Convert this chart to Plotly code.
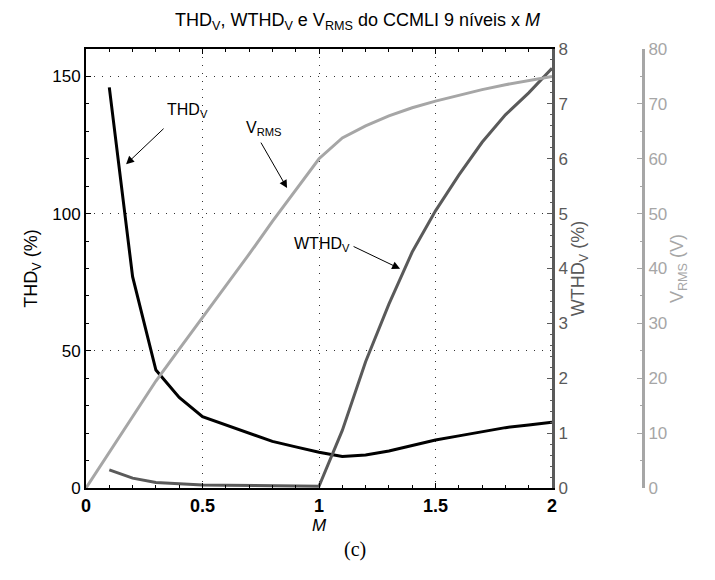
import plotly.graph_objects as go

M_thd = [0.1, 0.2, 0.3, 0.4, 0.5, 0.6, 0.7, 0.8, 0.9, 1.0, 1.1, 1.2, 1.3, 1.4, 1.5, 1.6, 1.7, 1.8, 1.9, 2.0]
thd = [146, 77, 43, 33, 26, 23, 20, 17, 15, 13, 11.5, 12, 13.5, 15.5, 17.5, 19, 20.5, 22, 23, 24]

M_wthd = [0.1, 0.2, 0.3, 0.4, 0.5, 0.6, 0.7, 0.8, 0.9, 1.0, 1.1, 1.2, 1.3, 1.4, 1.5, 1.6, 1.7, 1.8, 1.9, 2.0]
wthd = [0.33, 0.18, 0.10, 0.08, 0.055, 0.05, 0.045, 0.04, 0.035, 0.03, 1.05, 2.3, 3.35, 4.3, 5.05, 5.7, 6.3, 6.8, 7.2, 7.65]

M_vrms = [0.0, 0.1, 0.2, 0.3, 0.4, 0.5, 0.6, 0.7, 0.8, 0.9, 1.0, 1.1, 1.2, 1.3, 1.4, 1.5, 1.6, 1.7, 1.8, 1.9, 2.0]
vrms = [0, 6.5, 13, 19.5, 25.3, 31, 36.8, 42.6, 48.6, 54.3, 60, 63.8, 66, 67.8, 69.3, 70.5, 71.6, 72.6, 73.5, 74.3, 75]

x_ticks = [0, 0.5, 1, 1.5, 2]
x_labels = ["0", "0.5", "1", "1.5", "2"]
thd_ticks = [0, 50, 100, 150]
wthd_ticks = [0, 1, 2, 3, 4, 5, 6, 7, 8]
vrms_ticks = [0, 10, 20, 30, 40, 50, 60, 70, 80]

BLACK = "#000000"
DARK = "#5a5a5a"
LIGHT = "#a6a6a6"
GRID = "#333333"
FONT = "Liberation Sans, Arial, sans-serif"

W, H = 715, 580
L, R, T, B = 86, 20, 49, 92
pw = W - L - R
ph = H - T - B
x_end = (552 - L) / pw
vr_pos = (643 - L) / pw

fig = go.Figure()
fig.add_trace(go.Scatter(x=M_vrms, y=vrms, mode="lines", line=dict(color=LIGHT, width=3), yaxis="y3", showlegend=False))
fig.add_trace(go.Scatter(x=M_wthd, y=wthd, mode="lines", line=dict(color=DARK, width=3), yaxis="y2", showlegend=False))
fig.add_trace(go.Scatter(x=M_thd, y=thd, mode="lines", line=dict(color=BLACK, width=3), yaxis="y", showlegend=False))

fig.update_layout(
    width=W, height=H,
    margin=dict(l=L, r=R, t=T, b=B),
    paper_bgcolor="white", plot_bgcolor="white",
    font=dict(family=FONT, size=17, color=BLACK),
    title=dict(text="THD<sub>V</sub>, WTHD<sub>V</sub> e V<sub>RMS</sub> do CCMLI 9 níveis x <i>M</i>",
               x=0.5, xref="container", xanchor="center", y=0.966, yref="container", yanchor="middle",
               font=dict(family=FONT, size=18, color=BLACK)),
    xaxis=dict(domain=[0, x_end], range=[0, 2], tickvals=x_ticks, ticktext=["<b>%s</b>" % s for s in x_labels],
               showline=True, linecolor=BLACK, linewidth=2, mirror="ticks",
               ticks="inside", ticklen=5, tickcolor=BLACK,
               minor=dict(ticks="inside", dtick=0.1, ticklen=3, tickcolor=BLACK, showgrid=False),
               showgrid=True, gridcolor=GRID, griddash="1px,7px", gridwidth=1,
               zeroline=False, tickfont=dict(size=18, color=BLACK),
               title=dict(text="<i>M</i>", standoff=4, font=dict(size=17))),
    yaxis=dict(range=[0, 160], tickvals=thd_ticks, showline=True, linecolor=BLACK, linewidth=2,
               ticks="inside", ticklen=5, tickcolor=BLACK,
               minor=dict(ticks="inside", dtick=10, ticklen=3, tickcolor=BLACK, showgrid=False),
               showgrid=True, gridcolor=GRID, griddash="1px,7px", gridwidth=1,
               zeroline=False, tickfont=dict(size=17, color=BLACK),
               title=dict(text="THD<sub>V</sub> (%)", standoff=10, font=dict(size=18, color=BLACK))),
    yaxis2=dict(range=[0, 8], tickvals=wthd_ticks, overlaying="y", side="right", anchor="x",
                showline=True, linecolor=DARK, linewidth=3,
                ticks="inside", ticklen=5, tickcolor=DARK,
                minor=dict(ticks="inside", dtick=0.2, ticklen=2, tickcolor=DARK, showgrid=False),
                showgrid=False, zeroline=False, tickfont=dict(size=17, color=DARK),
                title=dict(text="WTHD<sub>V</sub> (%)", standoff=2, font=dict(size=18, color=DARK))),
    yaxis3=dict(range=[0, 80], tickvals=vrms_ticks, overlaying="y", side="right", anchor="free",
                position=vr_pos, showline=True, linecolor=LIGHT, linewidth=3,
                ticks="inside", ticklen=5, tickcolor=LIGHT,
                minor=dict(ticks="inside", dtick=5, ticklen=2, tickcolor=LIGHT, showgrid=False),
                showgrid=False, zeroline=False, tickfont=dict(size=17, color=LIGHT),
                title=dict(text="V<sub>RMS</sub> (V)", standoff=4, font=dict(size=18, color=LIGHT))),
)

# arrows (tip at data coordinates, tail offset in pixels)
arrows = [
    dict(x=0.172, y=118, ax=39, ay=-37),
    dict(x=0.863, y=109.3, ax=-27, ay=-47),
    dict(x=1.348, y=79.9, ax=-48, ay=-23),
]
for a in arrows:
    fig.add_annotation(x=a["x"], y=a["y"], xref="x", yref="y", ax=a["ax"], ay=a["ay"],
                       axref="pixel", ayref="pixel", text="", showarrow=True,
                       arrowhead=2, arrowsize=1.6, arrowwidth=1, arrowcolor=BLACK)

labels = [
    dict(x=0.436, y=137.5, text="THD<sub>V</sub>"),
    dict(x=0.762, y=131.1, text="V<sub>RMS</sub>"),
    dict(x=1.011, y=88.6, text="WTHD<sub>V</sub>"),
]
for t in labels:
    fig.add_annotation(x=t["x"], y=t["y"], xref="x", yref="y", text=t["text"], showarrow=False,
                       font=dict(family=FONT, size=16, color=BLACK))

fig.add_annotation(x=(355 - L) / pw, y=-(563 - (H - B)) / ph, xref="paper", yref="paper",
                   text="(c)", showarrow=False,
                   font=dict(family="Liberation Serif, DejaVu Serif, serif", size=20, color=BLACK))

fig.write_html("out.html")
